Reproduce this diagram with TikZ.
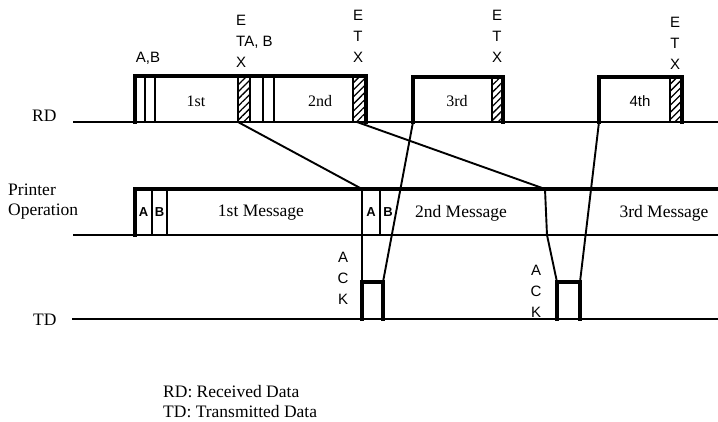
\documentclass[tikz,border=0pt]{standalone}
\usepackage{fontspec}
\setmainfont{Liberation Serif}
\newfontfamily\sansf{Liberation Sans}
\usetikzlibrary{patterns.meta}
\begin{document}
\begin{tikzpicture}[x=1pt,y=-1pt,
  baseln/.style={line width=2pt},
  pulse/.style={line width=3.2pt, line join=miter, line cap=rect},
  barln/.style={line width=2pt},
  link/.style={line width=1.9pt},
  hatchbox/.style={pattern={Lines[angle=45,distance=5pt,line width=1.3pt]}, draw, line width=2pt},
  serl/.style={font=\fontsize{17.5}{20}\selectfont, inner sep=0pt},
  sermid/.style={font=\fontsize{16}{18}\selectfont, inner sep=0pt},
  sanl/.style={font=\sansf\fontsize{15}{21}\selectfont, inner sep=0pt},
  smallab/.style={font=\sansf\bfseries\fontsize{13}{14}\selectfont, inner sep=0pt}
]
\useasboundingbox (0,0) rectangle (718,422);
\fill[white] (0,0) rectangle (718,422);

% ---------- key coordinates ----------
\coordinate (h1bl) at (238,122);
\coordinate (h2bl) at (357,122);
\coordinate (b3bl) at (413,122);
\coordinate (b4bl) at (599,122);
\coordinate (p2tl) at (362,189);
\coordinate (p3tl) at (545,189);
\coordinate (p3bl) at (547,235);
\coordinate (ack1tl) at (362,282);
\coordinate (ack1tr) at (383,282);
\coordinate (ack1br) at (383,319);
\coordinate (ack1bl) at (362,319);
\coordinate (ack2tl) at (557,282);
\coordinate (ack2tr) at (580,282);
\coordinate (ack2br) at (580,319);
\coordinate (ack2bl) at (557,319);

% ---------- RD line ----------
\draw[baseln] (73,122) -- (718,122);
\draw[hatchbox] (238,76) rectangle (250,122);
\draw[hatchbox] (353,76) rectangle (366,122);
\draw[hatchbox] (492,77) rectangle (503,122);
\draw[hatchbox] (670,77) rectangle (682,122);
% block 1 + 2
\draw[pulse] (135,122) -- (135,76) -- (366,76) -- (366,122);
\draw[barln] (145,76) -- (145,122) (155,76) -- (155,122)
             (263,76) -- (263,122) (274,76) -- (274,122);
% block 3
\draw[pulse] (b3bl) -- (413,77) -- (503,77) -- (503,122);
% block 4
\draw[pulse] (b4bl) -- (599,77) -- (682,77) -- (682,122);

% ---------- Printer operation ----------
\draw[baseln] (73,235) -- (718,235);
\draw[pulse] (135,235) -- (135,189) -- (718,189);
\draw[barln] (152,189) -- (152,235) (167,189) -- (167,235) (380,189) -- (380,235);

% ---------- TD line ----------
\draw[baseln] (72,319) -- (718,319);

% ---------- connectors ----------
\draw[link] (h1bl) -- (p2tl);
\draw[link] (h2bl) -- (p3tl);
\draw[link] (p2tl) -- (ack1bl);
\draw[link] (b3bl) -- (ack1tr);
\draw[link] (p3tl) -- (p3bl) -- (ack2tl);
\draw[link] (b4bl) -- (ack2tr);
% ACK pulses
\draw[pulse] (ack1bl) -- (ack1tl) -- (ack1tr) -- (ack1br);
\draw[pulse] (ack2bl) -- (ack2tl) -- (ack2tr) -- (ack2br);

% ---------- labels ----------
\node[serl, anchor=base west] (rdl) at (32,122) {RD};
\node[serl, anchor=base west] (tdl) at (33,326) {TD};
\node[serl, anchor=north west, align=left] (pol) at (8,184) {Printer\\Operation};

\node[sanl, anchor=base] (ab) at (148,63) {A,B};
\node[sanl, anchor=north west, align=left] (etx1) at (236,15) {E\\TA, B\\X};
\node[sanl, anchor=north, align=center] (etx2) at (358,10) {E\\T\\X};
\node[sanl, anchor=north, align=center] (etx3) at (497,10) {E\\T\\X};
\node[sanl, anchor=north, align=center] (etx4) at (675,17) {E\\T\\X};

\node[sermid] (m1) at (196,101) {1st};
\node[sermid] (m2) at (320,101) {2nd};
\node[sermid] (m3) at (457,101) {3rd};
\node[sanl] (m4) at (640,101) {4th};

\node[smallab] (pa1) at (143.5,212) {A};
\node[smallab] (pb1) at (159.5,212) {B};
\node[smallab] (pa2) at (371,212) {A};
\node[smallab] (pb2) at (388,212) {B};

\node[serl] (msg1) at (261,213) {1st Message};
\node[serl] (msg2) at (461,213) {2nd Message};
\node[serl] (msg3) at (664,213) {3rd Message};

\node[sanl, anchor=north, align=center] (ack1) at (343,252) {A\\C\\K};
\node[sanl, anchor=north, align=center] (ack2) at (536,265) {A\\C\\K};

\node[serl, anchor=base west, align=left] (leg1) at (163,397) {RD: Received Data};
\node[serl, anchor=base west, align=left] (leg2) at (163,417) {TD: Transmitted Data};
\end{tikzpicture}
\end{document}
